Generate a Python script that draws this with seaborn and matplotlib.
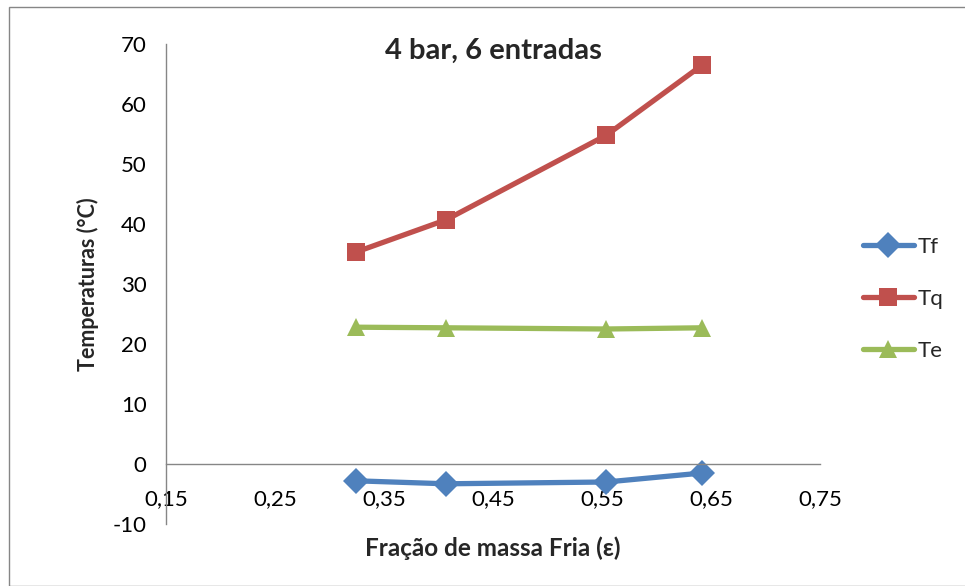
import pandas as pd
import matplotlib.pyplot as plt
import seaborn as sns
from matplotlib.patches import Rectangle

# Dados
fracao = [0.324, 0.407, 0.554, 0.642]
tf = [-2.8, -3.3, -3.0, -1.5]
tq = [35.3, 40.7, 54.8, 66.5]
te = [22.8, 22.7, 22.5, 22.7]
series = ['Tf', 'Tq', 'Te']
cores = {'Tf': '#4F81BD', 'Tq': '#C0504D', 'Te': '#9BBB59'}
marcadores = {'Tf': 'D', 'Tq': 's', 'Te': '^'}

df = pd.DataFrame({
    'x': fracao * 3,
    'y': tf + tq + te,
    'serie': ['Tf'] * 4 + ['Tq'] * 4 + ['Te'] * 4,
})

sns.set_style('white')
plt.rcParams['font.family'] = ['Lato', 'DejaVu Sans']
plt.rcParams['axes.unicode_minus'] = False

fig = plt.figure(figsize=(9.65, 5.86), dpi=100)
ax = fig.add_axes([166 / 965, 1 - 524 / 586, (820 - 166) / 965, (524 - 44) / 586])

sns.lineplot(data=df, x='x', y='y', hue='serie', style='serie', hue_order=series,
             style_order=series, palette=cores, markers=marcadores, dashes=False,
             linewidth=3.8, markersize=13, markeredgewidth=0, ax=ax)

ax.set_xlim(0.15, 0.75)
ax.set_ylim(-10, 70)
ax.set_xticks([0.15, 0.25, 0.35, 0.45, 0.55, 0.65, 0.75])
ax.set_xticklabels(['0,15', '0,25', '0,35', '0,45', '0,55', '0,65', '0,75'])
ax.set_yticks(range(-10, 71, 10))

for s in ['top', 'right']:
    ax.spines[s].set_visible(False)
ax.spines['bottom'].set_position(('data', 0))
for s in ['left', 'bottom']:
    ax.spines[s].set_color('#868686')
    ax.spines[s].set_linewidth(1)
ax.tick_params(axis='both', direction='out', length=6, width=1, color='#868686',
               labelsize=16, labelcolor='black')
ax.tick_params(axis='x', pad=12)
ax.tick_params(axis='y', pad=8)

ax.set_xlabel('')
ax.set_ylabel('Temperaturas (°C)', fontsize=15.5, fontweight='bold', labelpad=10)
fig.text(493 / 965, 1 - 548 / 586, 'Fração de massa Fria (ε)', fontsize=17.5,
         fontweight='bold', ha='center', va='center')
ax.text(0.5, 0.985, '4 bar, 6 entradas', transform=ax.transAxes, fontsize=21,
        fontweight='bold', ha='center', va='center')

handles, labels = ax.get_legend_handles_labels()
ax.legend(handles, labels, loc='center left', bbox_to_anchor=(1.035, 0.469), frameon=False,
          fontsize=16, handlelength=2.3, labelspacing=1.45, handletextpad=0.15)

fig.patches.append(Rectangle((9 / 965, 0), 1.0, 1 - 7 / 586, transform=fig.transFigure,
                             fill=False, edgecolor='#868686', linewidth=1))

plt.savefig('out.png', dpi=100)
plt.close()
